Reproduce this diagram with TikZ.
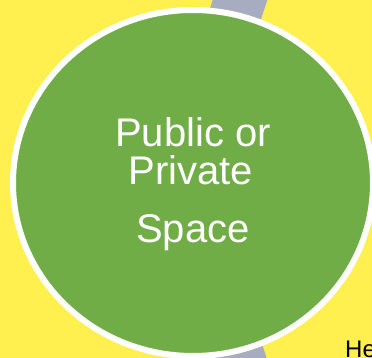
\documentclass[tikz,border=0pt]{standalone}
\usepackage{fontspec}
\setmainfont{Liberation Sans}
\definecolor{bgyellow}{HTML}{FFEF4F}
\definecolor{ringgray}{HTML}{A8ACC0}
\definecolor{nodegreen}{HTML}{70AD47}
\begin{document}
\begin{tikzpicture}[x=1pt,y=-1pt,
  bandstyle/.style={draw=ringgray,line width=52pt},
  bubble/.style={fill=nodegreen,draw=white,line width=6pt},
  label/.style={text=white,font=\fontsize{40}{40}\selectfont,anchor=base,inner sep=0pt},
  sidetext/.style={text=black,font=\fontsize{24}{24}\selectfont,anchor=base west,inner sep=0pt}]
\useasboundingbox (0,0) rectangle (372,358);
\clip (0,0) rectangle (372,358);
\fill[bgyellow] (0,0) rectangle (372,358);
\draw[bandstyle] (782,180) circle (571);
\draw[bubble] (193,183) ellipse [x radius=180, y radius=173];
\coordinate (c) at (193,183);
\node[label] (t1) at (193,147) {Public or};
\node[label] (t2) at (191,185) {Private};
\node[label] (t3) at (193,243) {Space};
\node[sidetext] (he) at (345,357) {He};
\end{tikzpicture}
\end{document}
